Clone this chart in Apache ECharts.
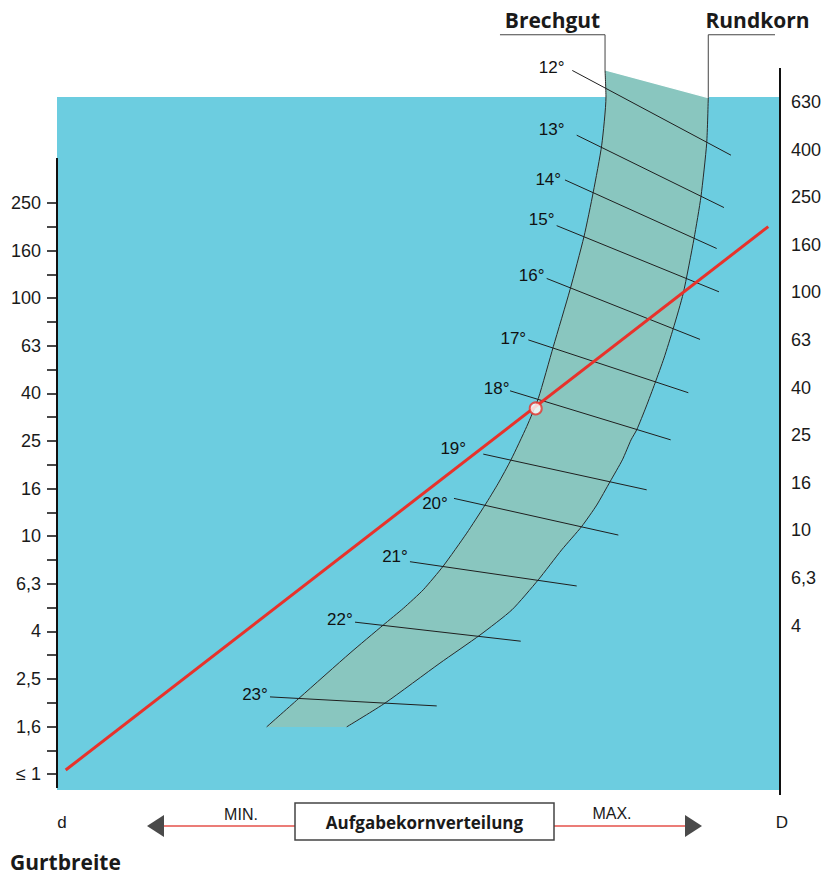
<!DOCTYPE html>
<html>
<head>
<meta charset="utf-8">
<script src="https://cdn.jsdelivr.net/npm/echarts@6/dist/echarts.min.js"></script>
<style>
html,body{margin:0;padding:0;background:#fff;}
#c{width:824px;height:876px;}
</style>
</head>
<body>
<div id="c"></div>
<script>
// ---------- DATA (chart units: x = feed distribution 0..100, y = belt-width scale step) ----------
const leftLabels  = ['≤ 1','1,6','2,5','4','6,3','10','16','25','40','63','100','160','250'];
const rightLabels = ['4','6,3','10','16','25','40','63','100','160','250','400','630'];

const brechgutLeader = [[61.27,15.53],[75.80,15.53],[75.80,14.79]];
const brechgut = [[75.80,14.79],[75.93,14.22],[75.34,13.21],[74.18,12.23],[72.89,11.29],[70.95,10.17],
  [68.65,8.98],[66.57,7.89],[64.97,7.30],[62.79,6.60],[61.04,6.11],[59.20,5.65],[56.67,5.06],[53.43,4.37],
  [50.66,3.87],[47.90,3.48],[45.13,3.13],[40.53,2.54],[33.61,1.61],[29.00,0.99]];

const rundkornLeader = [[99.31,15.53],[90.08,15.53],[90.08,14.21]];
const rundkorn = [[90.08,14.21],[89.86,13.25],[89.07,12.13],[88.11,11.25],[86.62,10.10],[85.24,9.36],
  [83.96,8.74],[82.71,8.21],[81.47,7.71],[80.18,7.23],[79.40,7.02],[78.20,6.60],[76.49,6.14],[74.65,5.65],
  [72.57,5.20],[69.81,4.71],[66.57,4.08],[62.93,3.45],[58.51,2.92],[52.97,2.33],[45.37,1.49],[40.07,0.99]];

const angleLabels = ['12°','13°','14°','15°','16°','17°','18°','19°','20°','21°','22°','23°'];
const angleStart = [[71.27,14.78],[71.88,13.42],[70.26,12.48],[69.11,11.52],[67.73,10.41],[65.19,9.12],
  [62.66,8.05],[58.96,6.72],[54.91,5.79],[48.82,4.46],[41.22,3.19],[29.46,1.62]];
const angleEnd = [[93.22,13.00],[92.25,11.90],[91.24,11.04],[91.56,10.13],[88.94,9.13],[87.32,8.01],
  [84.88,7.02],[81.56,5.97],[77.64,5.02],[71.88,3.95],[64.14,2.79],[52.52,1.43]];
const angleLabelPos = [[68.41,14.84],[68.41,13.53],[67.95,12.48],[67.04,11.64],[65.66,10.48],[63.11,9.15],
  [60.82,8.10],[54.81,6.84],[52.28,5.69],[46.75,4.57],[39.14,3.25],[27.39,1.66]];

const redLine = [[1.20,0.084],[98.38,11.50]];
const selectedPoint = [[66.21,7.68]];

const leftAxisExtent  = [[0,-0.294],[0,12.94]];
const rightAxisExtent = [[100,-0.44],[100,14.83]];
const blueArea = {x:[0,100], y:[-0.336,14.22]};

const tableTitle = ['Verringerung bei nassem','Material'];
const tableHeader = 'Feuchtigkeit';
const tableMoisture = ['> 25 % - 30 %','> 15 % - 25 %','10 % - 15 %'];
const tableReduction = ['- 4°','- 2,5°','- 1°'];

// ---------- CHART ----------
const chart = echarts.init(document.getElementById('c'), null, {renderer:'svg', width:824, height:876});
const numFont = '"Liberation Sans", Arial, Helvetica, sans-serif';
const boldFont = '"Open Sans", "Noto Sans", sans-serif';
const inkLine = '#2a2a2a';

function tickAxis(grid, min, max, pos, inside, labels, margin){
  return {
    type:'value', gridIndex:grid, position:pos, min:min, max:max, interval:1,
    axisLine:{show:false}, splitLine:{show:false},
    axisTick:{show:true, inside:inside, length:inside?9:10, lineStyle:{color:'#333', width:1.8}},
    minorTick:{show:true, splitNumber:2, length:inside?9:10, lineStyle:{color:'#333', width:1.8}},
    axisLabel: labels ? {show:true, margin:margin, color:'#1a1a1a', fontSize:18, fontFamily:numFont,
      formatter: v => labels[Math.round(v - min)] } : {show:false}
  };
}

const textStyle = (t, x, y, font, align, va, fill) => ({
  text:t, x:x, y:y, font:font, fill:fill||'#1a1a1a',
  align:align||'center', verticalAlign:va||'middle',
  textAlign:align||'center', textVerticalAlign:va||'middle'
});

const tableX = 133, tableY = 190, tableW = 242;
const rowYs = [0, 52.7, 85.7, 115.7, 145.7, 176];
const tableChildren = [
  {type:'rect', shape:{x:0,y:0,width:tableW,height:rowYs[5]}, style:{fill:'#fff', stroke:'#555', lineWidth:1.5}},
  {type:'line', shape:{x1:0,y1:rowYs[1],x2:tableW,y2:rowYs[1]}, style:{stroke:'#555', lineWidth:1.2}},
  {type:'line', shape:{x1:0,y1:rowYs[2],x2:tableW,y2:rowYs[2]}, style:{stroke:'#555', lineWidth:1.2}},
  {type:'line', shape:{x1:0,y1:rowYs[3],x2:tableW,y2:rowYs[3]}, style:{stroke:'#555', lineWidth:1.2}},
  {type:'line', shape:{x1:0,y1:rowYs[4],x2:tableW,y2:rowYs[4]}, style:{stroke:'#555', lineWidth:1.2}},
  {type:'line', shape:{x1:121.3,y1:rowYs[2],x2:121.3,y2:rowYs[5]}, style:{stroke:'#555', lineWidth:1.2}},
  {type:'text', style:textStyle(tableTitle[0], tableW/2, 16.7, 'bold 15px '+boldFont)},
  {type:'text', style:textStyle(tableTitle[1], tableW/2, 38.3, 'bold 15px '+boldFont)},
  {type:'text', style:textStyle(tableHeader, tableW/2, 70.5, 'bold 15px '+boldFont)}
];
tableMoisture.forEach((t,i)=>{
  const cy = (rowYs[i+2]+rowYs[i+3])/2;
  tableChildren.push({type:'text', style:textStyle(t, 61, cy, 'bold 15px '+boldFont)});
  tableChildren.push({type:'text', style:textStyle(tableReduction[i], 184, cy, 'bold 15px '+boldFont)});
});

const option = {
  animation:false,
  backgroundColor:'#ffffff',
  grid:[
    {left:57, right:44, top:20, bottom:86, outerBoundsMode:'none', containLabel:false},
    {left:57, width:723, top:203, height:571.2, outerBoundsMode:'none', containLabel:false},
    {left:57, width:723, top:101.9, height:523.6, outerBoundsMode:'none', containLabel:false}
  ],
  xAxis:[
    {type:'value', gridIndex:0, min:0, max:100, show:false},
    {type:'value', gridIndex:1, min:0, max:1, show:false},
    {type:'value', gridIndex:2, min:0, max:1, show:false}
  ],
  yAxis:[
    {type:'value', gridIndex:0, min:blueArea.y[0], max:15.84, show:false},
    tickAxis(1, 0, 12, 'left', false, leftLabels, 16),
    tickAxis(1, 0, 12, 'left', true, null, 0),
    tickAxis(2, 3, 14, 'right', false, rightLabels, 11),
    tickAxis(2, 3, 14, 'right', true, null, 0)
  ],
  series:[
    { // blue field
      type:'line', data:[], z:1, silent:true,
      markArea:{silent:true, itemStyle:{color:'#6ccde0'},
        data:[[{coord:[blueArea.x[0], blueArea.y[0]]},{coord:[blueArea.x[1], blueArea.y[1]]}]]}
    },
    { // band fill
      type:'custom', z:2, silent:true, clip:false,
      data:[[brechgut[0][0], brechgut[0][1]]],
      encode:{x:0, y:1},
      renderItem:(params, api)=>{
        const pts = brechgut.map(p=>api.coord(p)).concat(rundkorn.slice().reverse().map(p=>api.coord(p)));
        return {type:'polygon', shape:{points:pts}, style:{fill:'#89c6bf', stroke:null}};
      }
    },
    { // band top edge
      type:'line', z:3, silent:true, clip:false, symbol:'none',
      data:[brechgut[0], rundkorn[0]], lineStyle:{color:'#ffffff', width:1.3}
    },
    { // Brechgut leader
      type:'line', z:4, silent:true, clip:false, symbol:'none',
      data:brechgutLeader, lineStyle:{color:'#444', width:1}
    },
    { // Brechgut boundary
      type:'line', z:4, silent:true, clip:false, symbol:'none', smooth:0.2,
      data:brechgut, lineStyle:{color:inkLine, width:1}
    },
    { // Rundkorn leader
      type:'line', z:4, silent:true, clip:false, symbol:'none',
      data:rundkornLeader, lineStyle:{color:'#444', width:1}
    },
    { // Rundkorn boundary
      type:'line', z:4, silent:true, clip:false, symbol:'none', smooth:0.2,
      data:rundkorn, lineStyle:{color:inkLine, width:1}
    },
    { // trough angle lines
      type:'custom', z:5, silent:true, clip:false,
      data:angleStart.map(p=>[p[0],p[1]]),
      encode:{x:0, y:1},
      renderItem:(params, api)=>{
        const i = params.dataIndex;
        const a = api.coord(angleStart[i]), b = api.coord(angleEnd[i]), l = api.coord(angleLabelPos[i]);
        return {type:'group', children:[
          {type:'line', shape:{x1:a[0],y1:a[1],x2:b[0],y2:b[1]}, style:{stroke:'#1f1f1f', lineWidth:1}},
          {type:'text', x:l[0], y:l[1], style:{text:angleLabels[i], fill:'#111', font:'17px '+numFont,
            align:'center', verticalAlign:'middle'}}
        ]};
      }
    },
    { // axis lines
      type:'line', z:6, silent:true, clip:false, symbol:'none',
      data:leftAxisExtent, lineStyle:{color:'#111', width:2}
    },
    {
      type:'line', z:6, silent:true, clip:false, symbol:'none',
      data:rightAxisExtent, lineStyle:{color:'#111', width:2}
    },
    { // red reading line
      type:'line', z:7, silent:true, clip:false, symbol:'none',
      data:redLine, lineStyle:{color:'#e8322b', width:3}
    },
    { // selected point
      type:'scatter', z:8, silent:true, data:selectedPoint, symbol:'circle', symbolSize:12,
      itemStyle:{color:'#ffffff', borderColor:'#e8322b', borderWidth:2}
    }
  ],
  graphic:[
    {type:'group', x:tableX, y:tableY, z:100, children:tableChildren},
    {type:'text', z:100, style:textStyle('Brechgut', 552.5, 20, 'bold 21px '+boldFont)},
    {type:'text', z:100, style:textStyle('Rundkorn', 757.5, 20, 'bold 21px '+boldFont)},
    {type:'text', z:100, style:textStyle('d', 62, 822, '17px '+numFont)},
    {type:'text', z:100, style:textStyle('D', 782, 822, '17px '+numFont)},
    {type:'text', z:100, style:textStyle('MIN.', 241, 814, '16px "Liberation Sans Narrow", '+numFont)},
    {type:'text', z:100, style:textStyle('MAX.', 612, 813, '16px "Liberation Sans Narrow", '+numFont)},
    {type:'line', z:100, shape:{x1:163,y1:826,x2:295,y2:826}, style:{stroke:'#e5504a', lineWidth:1.5}},
    {type:'line', z:100, shape:{x1:554,y1:826,x2:686,y2:826}, style:{stroke:'#e5504a', lineWidth:1.5}},
    {type:'polygon', z:100, shape:{points:[[147,826],[164,815],[164,837]]}, style:{fill:'#4a4a4a'}},
    {type:'polygon', z:100, shape:{points:[[702,826],[685,815],[685,837]]}, style:{fill:'#4a4a4a'}},
    {type:'rect', z:100, shape:{x:295,y:803,width:259,height:37}, style:{fill:'#fff', stroke:'#444', lineWidth:1.5}},
    {type:'text', z:101, style:textStyle('Aufgabekornverteilung', 424.5, 822, 'bold 17px '+boldFont)},
    {type:'text', z:100, style:textStyle('Gurtbreite', 10, 862, 'bold 21px '+boldFont, 'left', 'middle')}
  ]
};
chart.setOption(option);
</script>
</body>
</html>
